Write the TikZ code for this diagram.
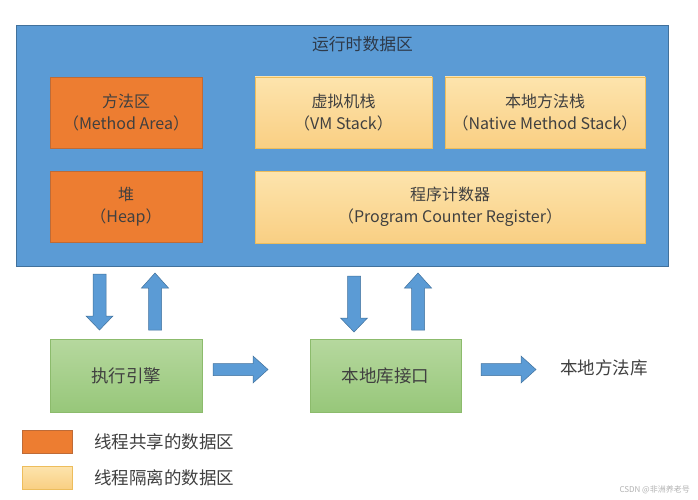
\documentclass[tikz,border=0pt]{standalone}
\usepackage{fontspec}
\setmainfont{Noto Sans CJK SC}
\definecolor{areablue}{HTML}{5B9BD5}
\definecolor{areaborder}{HTML}{41719C}
\definecolor{shared}{HTML}{ED7D31}
\definecolor{sharedborder}{HTML}{BE6B37}
\definecolor{isotop}{HTML}{FDE4AD}
\definecolor{isobot}{HTML}{F9CF83}
\definecolor{isoborder}{HTML}{EDBD5C}
\definecolor{greentop}{HTML}{B6D89E}
\definecolor{greenbot}{HTML}{97C77A}
\definecolor{greenborder}{HTML}{8CBB6C}
\definecolor{txt}{HTML}{404040}
\definecolor{titletxt}{HTML}{2E3A4A}
\begin{document}
\begin{tikzpicture}[x=1pt,y=-1pt,
  basebox/.style={draw, line width=0.8pt, rectangle, inner sep=0pt, align=center,
    text=txt, font=\fontsize{16}{22}\selectfont},
  sharedbox/.style={basebox, fill=shared, draw=sharedborder},
  isobox/.style={basebox, top color=isotop, bottom color=isobot, draw=isoborder},
  greenbox/.style={basebox, top color=greentop, bottom color=greenbot, draw=greenborder,
    font=\fontsize{17.5}{22}\selectfont},
  plaintext/.style={text=txt, font=\fontsize{17.5}{20}\selectfont, inner sep=0pt},
  arrowsty/.style={fill=areablue, draw=areaborder, line width=0.5pt},
  downarr/.pic={\draw[arrowsty] (-6.5,0) -- (6.5,0) -- (6.5,42) -- (13.5,42) -- (0,56) -- (-13.5,42) -- (-6.5,42) -- cycle;},
  uparr/.pic={\draw[arrowsty] (0,0) -- (13.5,15) -- (6.5,15) -- (6.5,57) -- (-6.5,57) -- (-6.5,15) -- (-13.5,15) -- cycle;},
  rightarr/.pic={\draw[arrowsty] (0,-6) -- (40,-6) -- (40,-13.5) -- (55,0) -- (40,13.5) -- (40,6) -- (0,6) -- cycle;}
]
\useasboundingbox (0,0) rectangle (698,500);
\fill[white] (0,0) rectangle (698,500);

% runtime data area
\node[basebox, fill=areablue, draw=areaborder, minimum width=652pt, minimum height=241pt] (area) at (342,145.5) {};
\node[text=titletxt, font=\fontsize{16.8}{20}\selectfont, inner sep=0pt] (title) at (362.5,44) {运行时数据区};

\node[sharedbox, minimum width=152pt, minimum height=71pt] (method) at (126,112.5) {方法区\\（Method Area）};
\node[sharedbox, minimum width=152pt, minimum height=71pt] (heap) at (126,206.5) {堆\\（Heap）};
\node[isobox, minimum width=177pt, minimum height=71pt] (vmstack) at (343.5,112.5) {虚拟机栈\\（VM Stack）};
\node[isobox, minimum width=200pt, minimum height=71pt] (nativestack) at (545,112.5) {本地方法栈\\（Native Method Stack）};
\node[isobox, minimum width=390pt, minimum height=72pt] (pc) at (450,207) {程序计数器\\（Program Counter Register）};

% lower part
\node[greenbox, minimum width=152pt, minimum height=73pt] (engine) at (126,375.5) {执行引擎};
\node[greenbox, minimum width=151pt, minimum height=73pt] (nativeif) at (385.5,375.5) {本地库接口};
\node[plaintext, anchor=west] (nativelib) at (560,368) {本地方法库};

% block arrows
\pic (d1) at (99.5,274) {downarr};
\pic (u1) at (155,273) {uparr};
\pic (d2) at (354,276) {downarr};
\pic (u2) at (418,273) {uparr};
\pic (r1) at (213,369.5) {rightarr};
\pic (r2) at (481,369.5) {rightarr};

% legend
\node[sharedbox, minimum width=50pt, minimum height=23pt] (legshared) at (47,441.5) {};
\node[isobox, minimum width=50pt, minimum height=23pt] (legiso) at (47,477.5) {};
\node[plaintext, anchor=west] (legsharedtxt) at (94,441.5) {线程共享的数据区};
\node[plaintext, anchor=west] (legisotxt) at (94,478) {线程隔离的数据区};

% watermark
\node[text=black!30, font=\fontsize{8}{9}\selectfont, inner sep=0pt, anchor=east] (wm) at (690,490) {CSDN @非洲养老号};
\end{tikzpicture}
\end{document}
